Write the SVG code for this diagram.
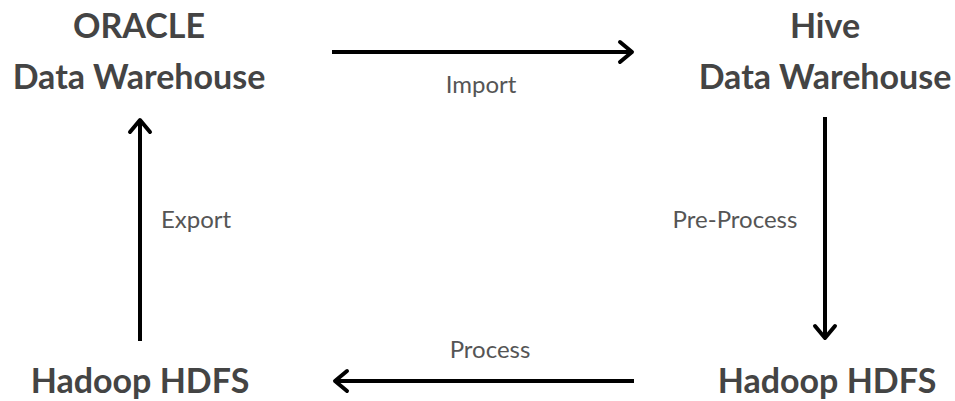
<svg xmlns="http://www.w3.org/2000/svg" width="955" height="401" viewBox="0 0 955 401">
  <defs>
    <style>
      .node { font-family: Lato, "Open Sans", "Liberation Sans", sans-serif; font-weight: bold; font-size: 34px; fill: #444444; text-anchor: middle; }
      .label { font-family: Lato, "Open Sans", "Liberation Sans", sans-serif; font-size: 24px; fill: #555555; text-anchor: middle; }
      .edge { stroke: #000000; stroke-width: 4; fill: none; }
      .head { stroke: #000000; stroke-width: 4; fill: none; stroke-linecap: round; stroke-linejoin: round; }
    </style>
  </defs>

  <rect width="955" height="401" fill="#ffffff"/>

  <g id="oracle">
    <text class="node" x="139" y="38">ORACLE</text>
    <text class="node" x="139" y="89">Data Warehouse</text>
  </g>
  <g id="hive">
    <text class="node" x="825" y="38">Hive</text>
    <text class="node" x="825" y="89">Data Warehouse</text>
  </g>
  <g id="hdfs-left">
    <text class="node" x="140" y="393">Hadoop HDFS</text>
  </g>
  <g id="hdfs-right">
    <text class="node" x="827" y="393">Hadoop HDFS</text>
  </g>

  <g id="connectors">
    <!-- Import: Oracle -> Hive -->
    <line class="edge" x1="332" y1="52" x2="632" y2="52"/>
    <polyline class="head" points="620,42 632,52 620,62"/>
    <text class="label" x="481" y="93">Import</text>

    <!-- Pre-Process: Hive -> HDFS (right) -->
    <line class="edge" x1="825" y1="117" x2="825" y2="338"/>
    <polyline class="head" points="815,326 825,338 835,326"/>
    <text class="label" x="735" y="228">Pre-Process</text>

    <!-- Process: HDFS (right) -> HDFS (left) -->
    <line class="edge" x1="634" y1="381" x2="335" y2="381"/>
    <polyline class="head" points="347,371 335,381 347,391"/>
    <text class="label" x="490" y="358">Process</text>

    <!-- Export: HDFS (left) -> Oracle -->
    <line class="edge" x1="140" y1="341" x2="140" y2="120"/>
    <polyline class="head" points="130,132 140,120 150,132"/>
    <text class="label" x="196" y="228">Export</text>
  </g>
</svg>
